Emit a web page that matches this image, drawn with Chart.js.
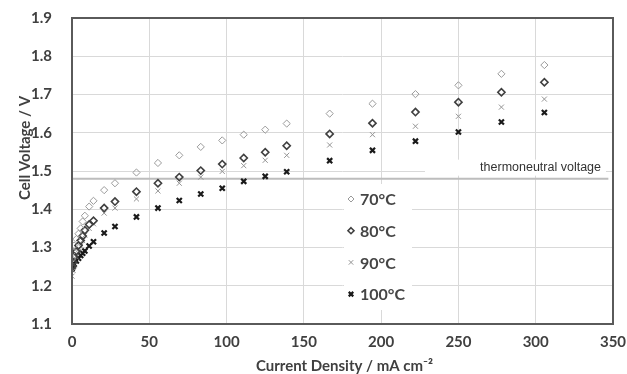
<!DOCTYPE html>
<html>
<head>
<meta charset="utf-8">
<script src="https://cdn.jsdelivr.net/npm/chart.js@4.4.1/dist/chart.umd.min.js"></script>
<style>
  html, body { margin: 0; padding: 0; background: #fff; }
  #wrap { width: 627px; height: 374px; }
</style>
</head>
<body>
<div id="wrap"><canvas id="chart" width="627" height="374"></canvas></div>
<script>
// Current density (mA cm-2), shared by all four temperature series
const currentDensity = [0, 0.7, 1.4, 2.8, 4.2, 5.6, 6.9, 8.3, 11.1, 13.9, 20.8, 27.8, 41.7,
  55.6, 69.4, 83.3, 97.2, 111.1, 125, 138.9, 166.7, 194.4, 222.2, 250, 277.8, 305.6];

// Cell voltage (V) per temperature
const v70 = [1.270, 1.290, 1.305, 1.322, 1.336, 1.350, 1.368, 1.383, 1.407, 1.422, 1.450, 1.468, 1.496,
  1.521, 1.541, 1.563, 1.580, 1.595, 1.608, 1.624, 1.650, 1.676, 1.701, 1.724, 1.754, 1.777];
const v80 = [1.250, 1.262, 1.275, 1.290, 1.305, 1.318, 1.330, 1.345, 1.360, 1.370, 1.403, 1.420, 1.446,
  1.468, 1.484, 1.501, 1.518, 1.534, 1.549, 1.566, 1.597, 1.625, 1.654, 1.680, 1.706, 1.732];
const v90 = [1.225, 1.240, 1.255, 1.275, 1.290, 1.303, 1.318, 1.332, 1.350, 1.362, 1.390, 1.403, 1.427,
  1.448, 1.468, 1.484, 1.499, 1.514, 1.528, 1.541, 1.568, 1.595, 1.617, 1.643, 1.667, 1.688];
const v100 = [1.244, 1.250, 1.256, 1.265, 1.272, 1.279, 1.285, 1.291, 1.304, 1.315, 1.338, 1.355, 1.380,
  1.403, 1.423, 1.440, 1.455, 1.473, 1.486, 1.498, 1.527, 1.554, 1.578, 1.602, 1.628, 1.653];

const seriesLabels = ['70°C', '80°C', '90°C', '100°C'];

// Thermoneutral voltage reference line
const thermoneutralV = 1.48;
const thermoneutralX = [0, 347];
const thermoneutralLabel = 'thermoneutral voltage';

// Axis ranges / ticks
const xMin = 0, xMax = 350, xStep = 50;
const yMin = 1.1, yMax = 1.9, yStep = 0.1;
const xTitle = 'Current Density / mA cm\u207B\u00B2';
const yTitle = 'Cell Voltage / V';

const toPoints = (vals) => vals.map((v, i) => ({ x: currentDensity[i], y: v }));

const seriesStyles = [
  { pointStyle: 'rectRot', color: '#9a9a9a', width: 1 },
  { pointStyle: 'rectRot', color: '#3f3f3f', width: 1.6 },
  { pointStyle: 'crossRot', color: '#949494', width: 1 },
  { pointStyle: 'crossRot', color: '#1a1a1a', width: 2.2 }
];

const seriesData = [v70, v80, v90, v100];

const datasets = seriesData.map((vals, i) => ({
  type: 'scatter',
  label: seriesLabels[i],
  data: toPoints(vals),
  pointStyle: seriesStyles[i].pointStyle,
  pointRadius: 3.6,
  pointHoverRadius: 3.6,
  pointBorderColor: seriesStyles[i].color,
  pointBackgroundColor: 'rgba(0,0,0,0)',
  pointBorderWidth: seriesStyles[i].width,
  showLine: false,
  order: 1
}));

datasets.push({
  type: 'line',
  label: 'thermoneutral',
  data: thermoneutralX.map(x => ({ x: x, y: thermoneutralV })),
  borderColor: '#bdbdbd',
  borderWidth: 2,
  pointRadius: 0,
  fill: false,
  order: 10
});

const TICK_FONT = { family: 'Lato', size: 15, weight: 'bold' };

// Draw frame, titles, legend box and reference label
const decorPlugin = {
  id: 'decor',
  beforeDatasetsDraw(chart) {
    const ctx = chart.ctx;
    const y = chart.scales.y;
    ctx.save();
    // white box behind the thermoneutral label
    const ty = y.getPixelForValue(thermoneutralV);
    ctx.fillStyle = '#fff';
    ctx.fillRect(425, ty - 19, 181, 16);
    ctx.fillStyle = '#333';
    ctx.font = '12.5px "Liberation Sans", Arial, sans-serif';
    ctx.textAlign = 'right';
    ctx.textBaseline = 'middle';
    ctx.fillText(thermoneutralLabel, 601, ty - 11);

    // legend box
    ctx.fillStyle = '#fff';
    ctx.fillRect(344, 184, 68, 126);
    ctx.font = 'bold 16px Lato, sans-serif';
    ctx.textAlign = 'left';
    seriesLabels.forEach((lab, i) => {
      const ly = 199 + i * 31.7;
      const st = seriesStyles[i];
      ctx.strokeStyle = st.color;
      ctx.lineWidth = st.width;
      ctx.beginPath();
      const r = 3;
      if (st.pointStyle === 'rectRot') {
        ctx.moveTo(351, ly - r); ctx.lineTo(351 + r, ly);
        ctx.lineTo(351, ly + r); ctx.lineTo(351 - r, ly); ctx.closePath();
      } else {
        const d = r * 0.75;
        ctx.moveTo(351 - d, ly - d); ctx.lineTo(351 + d, ly + d);
        ctx.moveTo(351 + d, ly - d); ctx.lineTo(351 - d, ly + d);
      }
      ctx.stroke();
      ctx.fillStyle = '#454545';
      ctx.fillText(lab, 360, ly + 1);
    });
    ctx.restore();
  },
  afterDraw(chart) {
    const ctx = chart.ctx;
    const a = chart.chartArea;
    ctx.save();
    ctx.strokeStyle = '#5a5a5a';
    ctx.lineWidth = 2;
    ctx.strokeRect(a.left, a.top, a.right - a.left, a.bottom - a.top);

    ctx.fillStyle = '#404040';
    ctx.font = 'bold 15px Lato, sans-serif';
    ctx.textAlign = 'center';
    ctx.textBaseline = 'middle';
    ctx.fillText(xTitle, (a.left + a.right) / 2 + 2, 366);

    ctx.translate(25, 148);
    ctx.rotate(-Math.PI / 2);
    ctx.fillText(yTitle, 0, 0);
    ctx.restore();
  }
};

new Chart(document.getElementById('chart'), {
  data: { datasets: datasets },
  options: {
    responsive: false,
    animation: false,
    layout: { padding: { top: 18, right: 14, left: 0, bottom: 0 } },
    plugins: {
      legend: { display: false },
      tooltip: { enabled: false }
    },
    scales: {
      x: {
        type: 'linear',
        min: xMin,
        max: xMax,
        afterFit: s => { s.height = 50; s.paddingRight = 0; s.paddingLeft = 0; },
        border: { display: false },
        grid: { color: '#d9d9d9', lineWidth: 1, drawTicks: false },
        ticks: { stepSize: xStep, font: TICK_FONT, color: '#404040', padding: 9 }
      },
      y: {
        type: 'linear',
        min: yMin,
        max: yMax,
        afterFit: s => { s.width = 72; s.paddingTop = 0; s.paddingBottom = 0; },
        border: { display: false },
        grid: { color: '#d9d9d9', lineWidth: 1, drawTicks: false },
        ticks: {
          stepSize: yStep,
          font: TICK_FONT,
          color: '#404040',
          padding: 20,
          callback: v => v.toFixed(1)
        }
      }
    }
  },
  plugins: [decorPlugin]
});
</script>
</body>
</html>
